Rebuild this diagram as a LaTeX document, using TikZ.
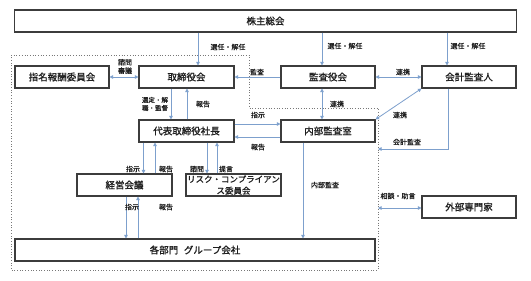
\documentclass[tikz,border=0pt]{standalone}
\usepackage{fontspec}
\setmainfont{Noto Sans CJK JP}
\newfontfamily\boxfont{Noto Sans CJK JP}[FakeBold=1.2]
\newfontfamily\lblfont{Noto Sans CJK JP}[FakeBold=0.6]
\usetikzlibrary{arrows.meta}
\definecolor{ln}{RGB}{125,160,205}
\definecolor{bd}{RGB}{60,60,60}
\definecolor{tx}{RGB}{30,30,30}
\definecolor{dt}{RGB}{120,120,120}
\begin{document}
\begin{tikzpicture}[x=1pt,y=-1pt,
 box/.style={draw=bd,line width=1.1pt,minimum height=22pt,inner sep=0pt,font=\boxfont\fontsize{9.5}{11}\selectfont,text=tx},
 arr/.style={draw=ln,line width=0.8pt,-{Triangle[length=3.5pt,width=3.5pt]}},
 darr/.style={draw=ln,line width=0.8pt,{Triangle[length=3.5pt,width=3.5pt]}-{Triangle[length=3.5pt,width=3.5pt]}},
 lbl/.style={font=\lblfont\fontsize{7}{8.5}\selectfont,text=tx,inner sep=0pt,align=center}]
\fill[white] (0,0) rectangle (531,281);
\useasboundingbox (0,0) rectangle (531,281);
% dotted region
\draw[dt,dotted,line width=0.7pt] (11,55) -- (249,55) -- (249,108) -- (378,108) -- (378,270) -- (11,270) -- cycle;
\coordinate (dR) at (378,108);
% boxes
\node[box,minimum width=502pt] (soukai) at (265.5,21) {株主総会};
\node[box,minimum width=94pt] (shimei) at (62,77) {指名報酬委員会};
\node[box,minimum width=95pt] (tori) at (186.5,77) {取締役会};
\node[box,minimum width=94pt] (kansa) at (328,77) {監査役会};
\node[box,minimum width=94pt] (kaikei) at (469,77) {会計監査人};
\node[box,minimum width=95pt] (daihyo) at (186.5,131) {代表取締役社長};
\node[box,minimum width=94pt] (naibu) at (328,131) {内部監査室};
\node[box,minimum width=95pt] (keiei) at (124.5,185) {経営会議};
\node[box,minimum width=95pt,align=center,font=\boxfont\fontsize{8.5}{11.5}\selectfont] (risk) at (233.5,185) {リスク・コンプライアン\\ス委員会};
\node[box,minimum width=360pt] (kakubu) at (195,250) {各部門\hspace{0.6em}グループ会社};
\node[box,minimum width=94pt] (gaibu) at (469,207) {外部専門家};
% helper coordinates
\coordinate (xa) at (198,0);
\coordinate (xb) at (322,0);
\coordinate (xc) at (447,0);
\coordinate (xd) at (171,0);
\coordinate (xe) at (187,0);
\coordinate (xf) at (143.5,0);
\coordinate (xg) at (155,0);
\coordinate (xh) at (207,0);
\coordinate (xi) at (217,0);
\coordinate (xj) at (126,0);
\coordinate (xk) at (138,0);
\coordinate (xl) at (303,0);
\coordinate (xm) at (448,0);
\coordinate (ya) at (0,124);
\coordinate (yb) at (0,137);
\coordinate (yc) at (0,149);
\coordinate (yd) at (0,208);
% connectors
\draw[arr] (soukai.south -| xa) -- (tori.north -| xa);
\draw[arr] (soukai.south -| xb) -- (kansa.north -| xb);
\draw[arr] (soukai.south -| xc) -- (kaikei.north -| xc);
\draw[darr] (shimei.east) -- (tori.west);
\draw[arr] (kansa.west) -- (tori.east);
\draw[darr] (kansa.east) -- (kaikei.west);
\draw[darr] (kansa.south -| xb) -- (naibu.north -| xb);
\draw[darr] (kaikei.south west) -- (naibu.north east);
\draw[arr] (kaikei.south -| xm) -- (xm |- yc) -- (dR |- yc);
\draw[arr] (tori.south -| xd) -- (daihyo.north -| xd);
\draw[arr] (daihyo.north -| xe) -- (tori.south -| xe);
\draw[arr] (daihyo.east |- ya) -- (naibu.west |- ya);
\draw[arr] (naibu.west |- yb) -- (daihyo.east |- yb);
\draw[arr] (daihyo.south -| xf) -- (keiei.north -| xf);
\draw[arr] (keiei.north -| xg) -- (daihyo.south -| xg);
\draw[arr] (daihyo.south -| xh) -- (risk.north -| xh);
\draw[arr] (risk.north -| xi) -- (daihyo.south -| xi);
\draw[arr] (keiei.south -| xj) -- (kakubu.north -| xj);
\draw[arr] (kakubu.north -| xk) -- (keiei.south -| xk);
\draw[arr] (naibu.south -| xl) -- (kakubu.north -| xl);
\draw[darr] (dR |- yd) -- (gaibu.west |- yd);
% labels
\node[lbl] (l1) at (228,47) {選任・解任};
\node[lbl] (l2) at (345,46) {選任・解任};
\node[lbl] (l3) at (468,46) {選任・解任};
\node[lbl] (l4) at (125,66.5) {諮問\\審議};
\node[lbl] (l5) at (257,72) {監査};
\node[lbl] (l6) at (403,72) {連携};
\node[lbl] (l7) at (337,104) {連携};
\node[lbl] (l8) at (400,115) {連携};
\node[lbl] (l9) at (407,142) {会計監査};
\node[lbl,font=\lblfont\fontsize{6.5}{8}\selectfont] (l10) at (155,104) {選定・解\\職・監督};
\node[lbl] (l11) at (203,104) {報告};
\node[lbl] (l12) at (258,115) {指示};
\node[lbl] (l13) at (258,147) {報告};
\node[lbl] (l14) at (133,169) {指示};
\node[lbl] (l15) at (166,169) {報告};
\node[lbl] (l16) at (197,169) {諮問};
\node[lbl] (l17) at (226,169) {提言};
\node[lbl] (l18) at (132,207) {指示};
\node[lbl] (l19) at (166,207) {報告};
\node[lbl] (l20) at (325,185) {内部監査};
\node[lbl] (l21) at (398,196) {相談・助言};
\end{tikzpicture}
\end{document}
